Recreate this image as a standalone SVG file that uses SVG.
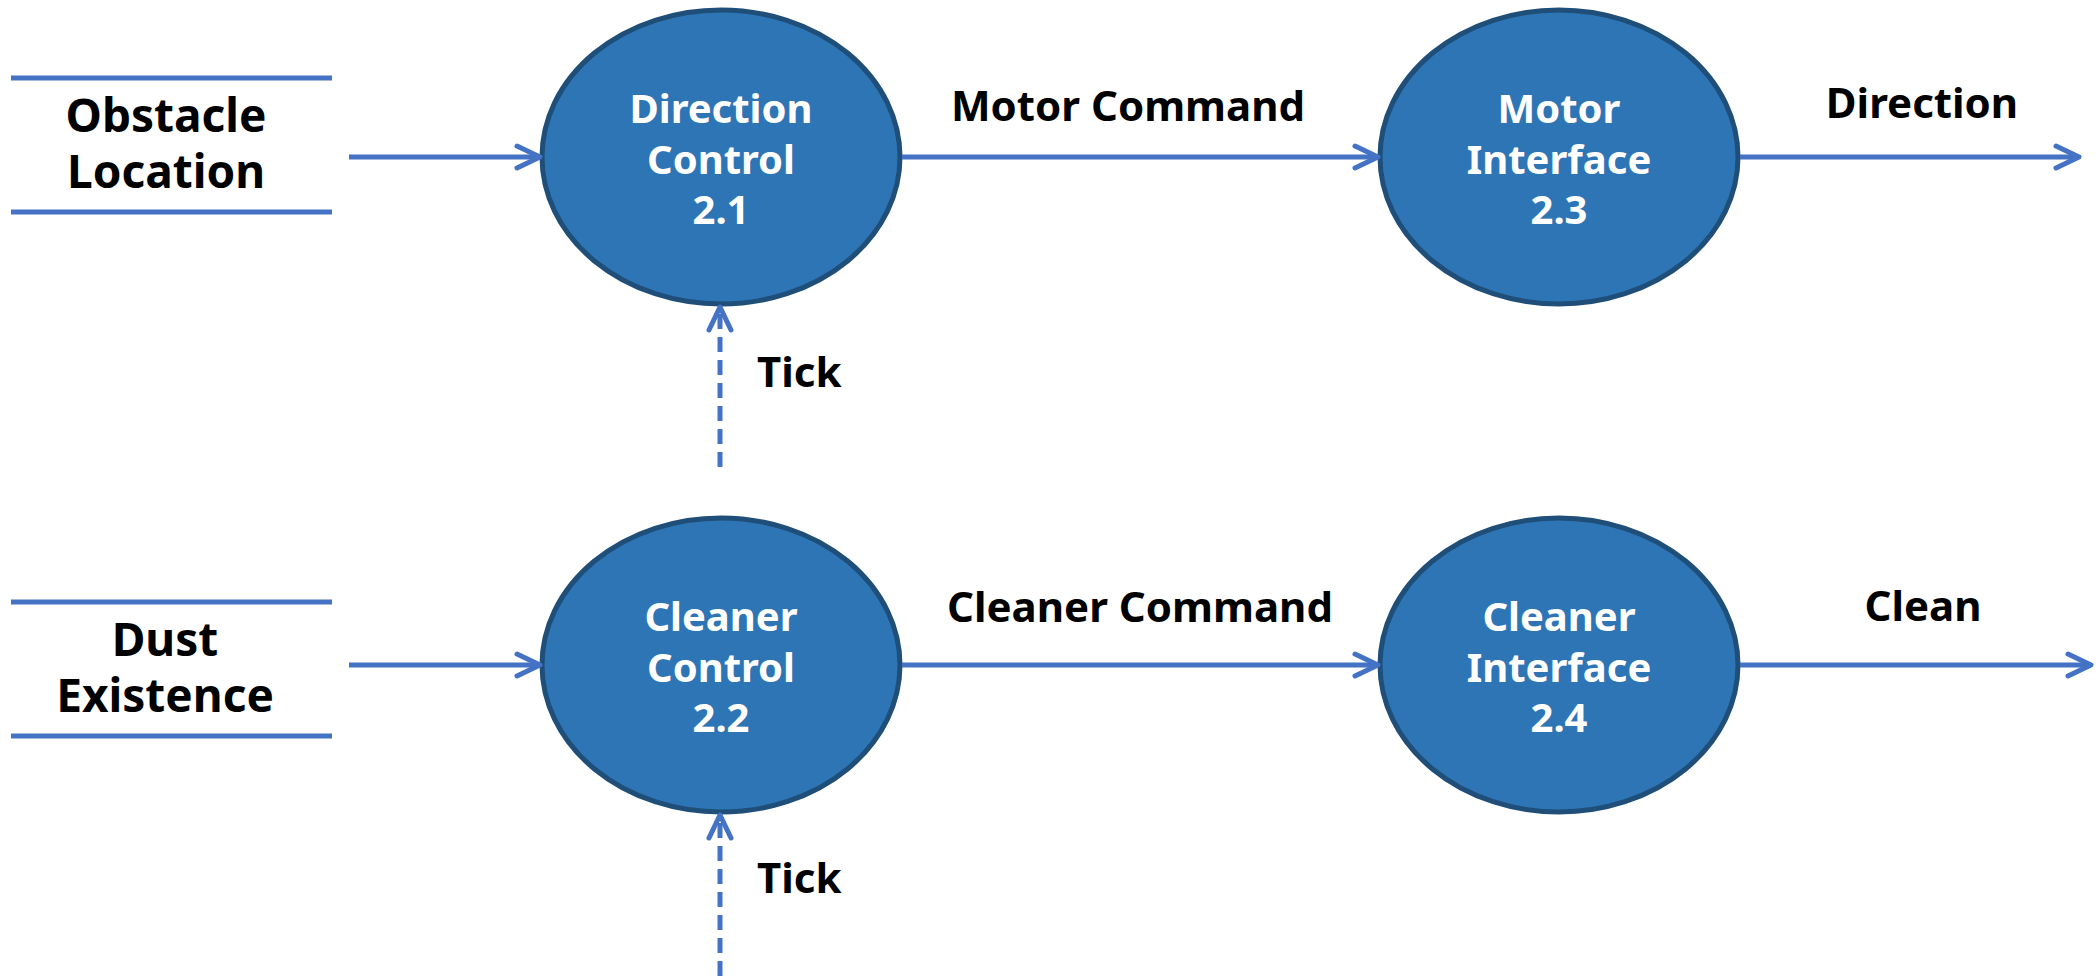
<svg xmlns="http://www.w3.org/2000/svg" width="2099" height="976" viewBox="0 0 2099 976">
  <style>
    .bubble { fill: #2E75B6; stroke: #1F4E79; stroke-width: 5; }
    .inner { font-family: "Noto Sans", "Open Sans", "Liberation Sans", sans-serif; font-weight: bold; font-size: 40px; fill: #FFFFFF; text-anchor: middle; }
    .label { font-family: "Noto Sans", "Open Sans", "Liberation Sans", sans-serif; font-weight: bold; font-size: 42px; fill: #000000; }
    .store-text { font-family: "Noto Sans", "Open Sans", "Liberation Sans", sans-serif; font-weight: bold; font-size: 46px; fill: #000000; text-anchor: middle; }
    .store-line { stroke: #4472C4; stroke-width: 5; fill: none; }
    .flow { stroke: #4472C4; stroke-width: 5; fill: none; marker-end: url(#arrow); }
    .control { stroke: #4472C4; stroke-width: 5; fill: none; stroke-dasharray: 15 8; marker-end: url(#arrow); }
  </style>
  <defs>
    <marker id="arrow" markerUnits="userSpaceOnUse" viewBox="-30 -20 40 40" markerWidth="40" markerHeight="40" refX="0" refY="0" orient="auto">
      <path d="M -23 -11 L 0 0 L -23 11" fill="none" stroke="#4472C4" stroke-width="5" stroke-linecap="round" stroke-linejoin="round" stroke-dasharray="none"/>
    </marker>
  </defs>

  <rect width="2099" height="976" fill="#FFFFFF"/>

  <!-- External data stores -->
  <g id="store-obstacle-location">
    <line class="store-line" x1="11" y1="78" x2="332" y2="78"/>
    <line class="store-line" x1="11" y1="212" x2="332" y2="212"/>
    <text class="store-text" x="166" y="132">Obstacle</text>
    <text class="store-text" x="166" y="188">Location</text>
  </g>
  <g id="store-dust-existence">
    <line class="store-line" x1="11" y1="602" x2="332" y2="602"/>
    <line class="store-line" x1="11" y1="736" x2="332" y2="736"/>
    <text class="store-text" x="165" y="656">Dust</text>
    <text class="store-text" x="165" y="712">Existence</text>
  </g>

  <!-- Processes -->
  <g id="process-2-1">
    <ellipse class="bubble" cx="721" cy="157" rx="179" ry="147"/>
    <text class="inner" x="721" y="123">Direction</text>
    <text class="inner" x="721" y="174">Control</text>
    <text class="inner" x="721" y="224">2.1</text>
  </g>
  <g id="process-2-2">
    <ellipse class="bubble" cx="721" cy="665" rx="179" ry="147"/>
    <text class="inner" x="721" y="631">Cleaner</text>
    <text class="inner" x="721" y="682">Control</text>
    <text class="inner" x="721" y="732">2.2</text>
  </g>
  <g id="process-2-3">
    <ellipse class="bubble" cx="1559" cy="157" rx="179" ry="147"/>
    <text class="inner" x="1559" y="123">Motor</text>
    <text class="inner" x="1559" y="174">Interface</text>
    <text class="inner" x="1559" y="224">2.3</text>
  </g>
  <g id="process-2-4">
    <ellipse class="bubble" cx="1559" cy="665" rx="179" ry="147"/>
    <text class="inner" x="1559" y="631">Cleaner</text>
    <text class="inner" x="1559" y="682">Interface</text>
    <text class="inner" x="1559" y="732">2.4</text>
  </g>

  <!-- Data and control flows -->
  <g id="connectors">
    <path class="flow" d="M 349 157 L 540 157"/>
    <path class="flow" d="M 349 665 L 540 665"/>
    <path class="flow" d="M 902 157 L 1378 157"/>
    <path class="flow" d="M 902 665 L 1378 665"/>
    <path class="flow" d="M 1740 157 L 2079 157"/>
    <path class="flow" d="M 1740 665 L 2091 665"/>
    <path class="control" d="M 720 467 L 720 307"/>
    <path class="control" d="M 720 976 L 720 815"/>

    <text class="label" x="1128" y="121" text-anchor="middle">Motor Command</text>
    <text class="label" x="1140" y="622" text-anchor="middle">Cleaner Command</text>
    <text class="label" x="1922" y="118" text-anchor="middle">Direction</text>
    <text class="label" x="1923" y="621" text-anchor="middle">Clean</text>
    <text class="label" x="757" y="387">Tick</text>
    <text class="label" x="757" y="893">Tick</text>
  </g>
</svg>
